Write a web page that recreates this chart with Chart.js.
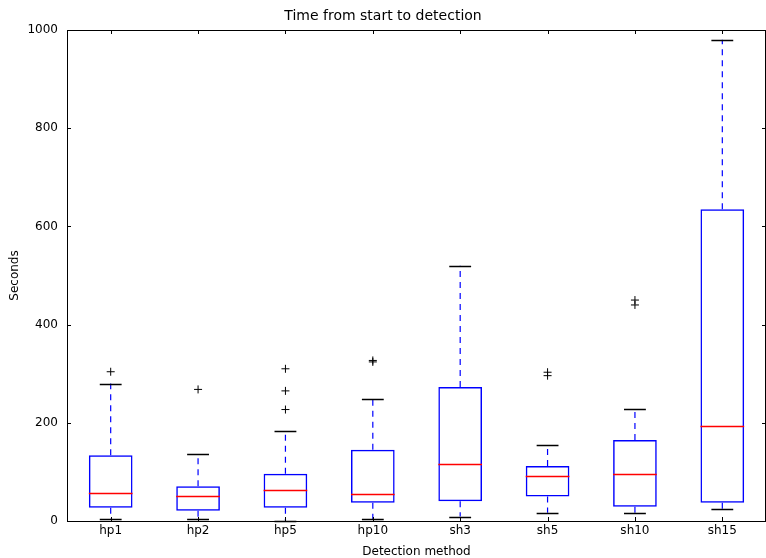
<!DOCTYPE html>
<html>
<head>
<meta charset="utf-8">
<script src="https://cdn.jsdelivr.net/npm/chart.js@4/dist/chart.umd.min.js"></script>
<style>
  html, body { margin: 0; padding: 0; background: #fff; }
  #wrap { width: 766px; height: 558px; }
</style>
</head>
<body>
<div id="wrap"><canvas id="boxChart" width="766" height="558"></canvas></div>
<script>
// valeurs
const methods = ['hp1', 'hp2', 'hp5', 'hp10', 'sh3', 'sh5', 'sh10', 'sh15'];
const whiskerLow  = [4, 4, 1, 4, 9, 17, 17, 24];
const q1          = [27, 21, 27, 37, 40, 50, 29, 37];
const medians     = [58, 50, 63, 55, 117, 92, 96, 193];
const q3          = [134, 71, 96, 145, 273, 112, 165, 635];
const whiskerHigh = [280, 137, 184, 248, 520, 155, 229, 980];
const outliers = [
  [304],
  [268],
  [310, 265, 227],
  [324, 327],
  [],
  [296, 303],
  [440, 450],
  []
];
const yTicks = [0, 200, 400, 600, 800, 1000];

const outlierPoints = [];
outliers.forEach((list, i) => {
  list.forEach(v => outlierPoints.push({ x: methods[i], y: v }));
});

// moustaches, médianes et cadre dessinés avec les échelles du graphique
const boxExtras = {
  id: 'boxExtras',
  afterDatasetsDraw(chart) {
    const ctx = chart.ctx;
    const x = chart.scales.x;
    const y = chart.scales.y;
    const half = x.width / methods.length / 2;
    ctx.save();
    methods.forEach((m, i) => {
      const cx = x.getPixelForValue(i);
      // whiskers pointillés
      ctx.strokeStyle = '#0000ff';
      ctx.lineWidth = 1.2;
      ctx.setLineDash([6, 5]);
      ctx.beginPath();
      ctx.moveTo(cx, y.getPixelForValue(q3[i]));
      ctx.lineTo(cx, y.getPixelForValue(whiskerHigh[i]));
      ctx.moveTo(cx, y.getPixelForValue(q1[i]));
      ctx.lineTo(cx, y.getPixelForValue(whiskerLow[i]));
      ctx.stroke();
      ctx.setLineDash([]);
      // caps
      ctx.strokeStyle = '#000';
      ctx.lineWidth = 1.5;
      const cw = half * 0.25;
      ctx.beginPath();
      [whiskerHigh[i], whiskerLow[i]].forEach(v => {
        const py = Math.round(y.getPixelForValue(v)) + 0.5;
        ctx.moveTo(cx - cw, py);
        ctx.lineTo(cx + cw, py);
      });
      ctx.stroke();
      // médiane
      ctx.strokeStyle = '#ff0000';
      ctx.lineWidth = 1.5;
      const bw = half * 0.5;
      const my = Math.round(y.getPixelForValue(medians[i])) + 0.5;
      ctx.beginPath();
      ctx.moveTo(cx - bw, my);
      ctx.lineTo(cx + bw, my);
      ctx.stroke();
    });
    ctx.restore();
  },
  afterDraw(chart) {
    const ctx = chart.ctx;
    const a = chart.chartArea;
    const x = chart.scales.x;
    const y = chart.scales.y;
    ctx.save();
    ctx.strokeStyle = '#000';
    ctx.lineWidth = 1;
    ctx.strokeRect(Math.round(a.left) + 0.5, Math.round(a.top) + 0.5,
      Math.round(a.right - a.left) - 1, Math.round(a.bottom - a.top));
    // petits traits vers l'intérieur
    ctx.beginPath();
    yTicks.forEach(v => {
      const py = Math.round(y.getPixelForValue(v)) + 0.5;
      ctx.moveTo(a.left, py); ctx.lineTo(a.left + 4, py);
      ctx.moveTo(a.right, py); ctx.lineTo(a.right - 4, py);
    });
    methods.forEach((m, i) => {
      const px = Math.round(x.getPixelForValue(i)) + 0.5;
      ctx.moveTo(px, a.bottom); ctx.lineTo(px, a.bottom - 4);
      ctx.moveTo(px, a.top); ctx.lineTo(px, a.top + 4);
    });
    ctx.stroke();
    ctx.restore();
  }
};

const ctx = document.getElementById('boxChart').getContext('2d');
new Chart(ctx, {
  type: 'bar',
  data: {
    labels: methods,
    datasets: [
      {
        label: 'box',
        data: methods.map((m, i) => [q1[i], q3[i]]),
        backgroundColor: 'rgba(0,0,0,0)',
        borderColor: '#0000ff',
        borderWidth: 1.5,
        borderSkipped: false,
        categoryPercentage: 1,
        barPercentage: 0.5,
        grouped: false
      },
      {
        type: 'scatter',
        label: 'outliers',
        data: outlierPoints,
        pointStyle: 'cross',
        radius: 4,
        borderColor: '#000',
        borderWidth: 1
      }
    ]
  },
  options: {
    responsive: false,
    animation: false,
    layout: { autoPadding: false, padding: { left: 0, right: 0, top: 0, bottom: 0 } },
    plugins: {
      legend: { display: false },
      tooltip: { enabled: false },
      title: {
        display: true,
        text: 'Time from start to detection',
        color: '#000',
        font: { family: 'DejaVu Sans', size: 14, weight: 'normal' },
        padding: { top: 8, bottom: 5.2 }
      }
    },
    scales: {
      x: {
        type: 'category',
        offset: true,
        grid: { display: false, drawTicks: false },
        border: { display: false },
        ticks: { color: '#000', font: { family: 'DejaVu Sans', size: 12 }, padding: 3 },
        title: {
          display: true,
          text: 'Detection method',
          color: '#000',
          font: { family: 'DejaVu Sans', size: 12 },
          padding: { top: 0, bottom: -1 }
        },
        afterFit: s => {
          s.height = 37;
          s.paddingLeft = 0;
          s.paddingRight = 0;
        }
      },
      y: {
        min: 0,
        max: 1000,
        grid: { display: false, drawTicks: false },
        border: { display: false },
        afterBuildTicks: s => { s.ticks = yTicks.map(v => ({ value: v })); },
        ticks: {
          color: '#000',
          font: { family: 'DejaVu Sans', size: 12 },
          padding: 9,
          callback: v => String(v)
        },
        title: {
          display: true,
          text: 'Seconds',
          color: '#000',
          font: { family: 'DejaVu Sans', size: 12 },
          padding: { top: 8, bottom: 0 }
        },
        afterFit: s => { s.width = 67; }
      }
    }
  },
  plugins: [boxExtras]
});
</script>
</body>
</html>
